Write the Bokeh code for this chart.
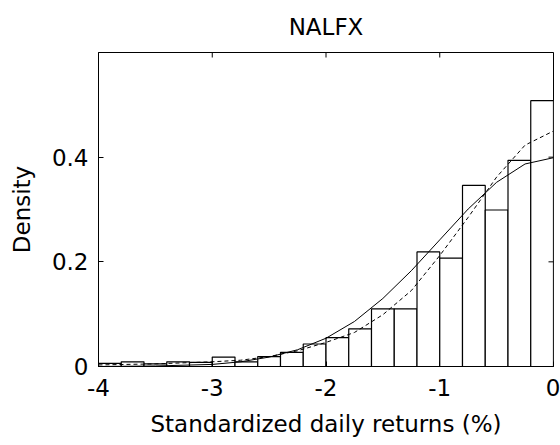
import math
from bokeh.plotting import figure
from bokeh.models import Range1d, FixedTicker, LinearAxis
from bokeh.embed import file_html
from bokeh.resources import INLINE

# ---- data ----
bin_left = [-4.0, -3.8, -3.6, -3.4, -3.2, -3.0, -2.8, -2.6, -2.4, -2.2,
            -2.0, -1.8, -1.6, -1.4, -1.2, -1.0, -0.8, -0.6, -0.4, -0.2]
bin_right = [-3.8, -3.6, -3.4, -3.2, -3.0, -2.8, -2.6, -2.4, -2.2, -2.0,
             -1.8, -1.6, -1.4, -1.2, -1.0, -0.8, -0.6, -0.4, -0.2, 0.0]
density = [0.006, 0.009, 0.005, 0.009, 0.008, 0.018, 0.009, 0.019, 0.027, 0.043,
           0.055, 0.072, 0.110, 0.110, 0.219, 0.207, 0.346, 0.299, 0.394, 0.508]

normal_x = [-4.0, -3.5, -3.0, -2.75, -2.5, -2.25, -2.0, -1.75, -1.5, -1.25,
            -1.0, -0.75, -0.5, -0.25, 0.0]
normal_y = [0.000, 0.001, 0.004, 0.009, 0.018, 0.032, 0.054, 0.086, 0.130, 0.183,
            0.242, 0.301, 0.352, 0.387, 0.399]

fitted_x = [-4.0, -3.5, -3.0, -2.75, -2.5, -2.25, -2.0, -1.75, -1.5, -1.25,
            -1.0, -0.75, -0.5, -0.25, 0.0]
fitted_y = [0.003, 0.005, 0.009, 0.012, 0.019, 0.030, 0.046, 0.065, 0.099, 0.145,
            0.212, 0.285, 0.362, 0.423, 0.450]

x_min, x_max = -4, 0
y_min, y_max = 0, 0.6
x_ticks = [-4, -3, -2, -1, 0]
x_tick_labels = ["-4", "-3", "-2", "-1", "0"]
y_ticks = [0, 0.2, 0.4]
y_tick_labels = ["0", "0.2", "0.4"]

title_text = "NALFX"
x_label = "Standardized daily returns (%)"
y_label = "Density"

FONT = "DejaVu Sans"
FS = "23px"

p = figure(width=560, height=445, output_backend="svg", toolbar_location=None,
           x_range=Range1d(x_min, x_max), y_range=Range1d(y_min, y_max),
           min_border_left=98, min_border_right=7, min_border_top=52,
           min_border_bottom=79, x_axis_location=None, y_axis_location=None)
p.grid.visible = False
p.background_fill_color = "white"
p.border_fill_color = "white"
p.outline_line_color = "black"
p.outline_line_width = 1

p.title.text = title_text
p.title.align = "center"
p.title.vertical_align = "top"
p.title.text_font = FONT
p.title.text_font_size = FS
p.title.text_font_style = "normal"
p.title.text_color = "black"
p.title.standoff = 22


def make_axis(ticks, labels):
    ax = LinearAxis(ticker=FixedTicker(ticks=ticks))
    ax.major_label_overrides = {t: l for t, l in zip(ticks, labels)}
    ax.major_tick_in = 5
    ax.major_tick_out = 0
    ax.minor_tick_in = 0
    ax.minor_tick_out = 0
    ax.axis_line_color = "black"
    ax.major_tick_line_color = "black"
    ax.major_label_text_font = FONT
    ax.major_label_text_color = "black"
    ax.major_label_text_font_size = FS
    ax.major_label_standoff = 10
    ax.axis_label_text_font = FONT
    ax.axis_label_text_font_size = FS
    ax.axis_label_text_font_style = "normal"
    ax.axis_label_text_color = "black"
    return ax


xb = make_axis(x_ticks, x_tick_labels)
xb.major_label_standoff = 12
xb.axis_label = x_label
xb.axis_label_standoff = 12
p.add_layout(xb, "below")

yl = make_axis(y_ticks, y_tick_labels)
yl.axis_label = y_label
yl.axis_label_standoff = 14
p.add_layout(yl, "left")

p.quad(left=bin_left, right=bin_right, bottom=0, top=density,
       fill_color="white", line_color="black", line_width=1.2)
p.line(normal_x, normal_y, line_color="black", line_width=1)
p.line(fitted_x, fitted_y, line_color="black", line_width=1, line_dash="4 3")

# inward ticks on the top and right edges of the box (half of each mark is clipped)
p.scatter(x=x_ticks, y=[y_max] * len(x_ticks), marker="dash", angle=math.pi / 2,
          size=10, line_color="black", line_width=1)
p.scatter(x=[x_max] * len(y_ticks), y=y_ticks, marker="dash",
          size=10, line_color="black", line_width=1)

open("out.html", "w").write(file_html(p, INLINE))
